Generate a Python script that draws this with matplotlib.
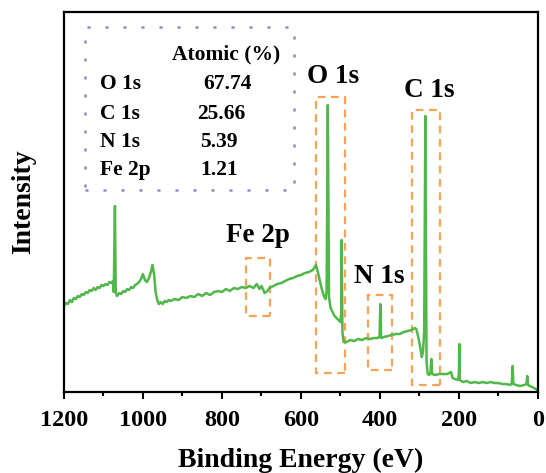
import matplotlib
matplotlib.use("Agg")
import matplotlib.pyplot as plt
from matplotlib.patches import Rectangle
from matplotlib.ticker import MultipleLocator

plt.rcParams['font.family'] = ['Liberation Serif', 'DejaVu Serif']
plt.rcParams['font.weight'] = 'bold'

# survey spectrum (binding energy in eV, intensity in a.u.)
energy = [1200, 1195, 1190, 1185, 1180, 1175, 1170, 1165, 1160, 1155, 1150, 1145,
          1140, 1135, 1130, 1125, 1120, 1115, 1110, 1105, 1100, 1095, 1090, 1085,
          1080, 1076, 1074, 1071, 1069, 1066, 1060, 1055, 1050, 1045, 1040, 1035,
          1030, 1025, 1020, 1015, 1010, 1005, 1000, 995, 990, 985, 980, 976, 972,
          968, 964, 960, 955, 950, 945, 940, 935, 930, 920, 910, 900, 890, 880, 870,
          860, 850, 840, 830, 820, 810, 800, 790, 780, 770, 760, 750, 740, 730, 720,
          712, 705, 700, 692, 685, 680, 670, 660, 650, 640, 630, 620, 610, 600, 590,
          580, 570, 562, 556, 548, 542, 538, 535, 532, 529, 525, 520, 515, 510, 505,
          500, 498, 497, 495, 492, 485, 475, 465, 455, 445, 435, 425, 415, 405, 401,
          399, 397, 390, 380, 370, 360, 350, 340, 330, 320, 312, 308, 303, 298, 294,
          291, 288, 285, 282, 279, 275, 272, 270, 268, 260, 250, 240, 230, 220, 216,
          210, 202, 200, 199, 198, 190, 180, 170, 160, 150, 140, 130, 120, 110, 100,
          90, 80, 70, 66, 64, 62, 55, 45, 35, 29, 27, 25, 20, 10, 5, 0]
intensity = [86, 89, 88, 92, 90, 94, 93, 96, 95, 98, 97, 100,
             99, 102, 101, 104, 102, 105, 104, 107, 106, 108, 107, 110,
             109, 111, 100, 186, 100, 96, 99, 98, 101, 100, 103, 102,
             105, 104, 107, 108, 110, 113, 118, 112, 110, 114, 120, 127, 118,
             100, 92, 88, 90, 88, 91, 90, 92, 91, 93, 92, 95, 94, 96, 95,
             98, 96, 99, 97, 100, 101, 100, 103, 101, 104, 103, 105, 104, 106, 104,
             108, 103, 106, 99, 101, 104, 106, 108, 109, 111, 113, 114, 116, 117, 119,
             120, 122, 127, 118, 104, 96, 93, 100, 287, 95, 84, 80, 76, 74, 72,
             70, 80, 152, 60, 50, 50, 52, 51, 53, 52, 54, 53, 54, 54, 56,
             88, 54, 55, 56, 57, 58, 58, 60, 61, 62, 64, 63, 55, 45, 35,
             40, 60, 276, 30, 18, 17, 20, 33, 18, 17, 18, 18, 18, 20, 14,
             13, 12, 20, 48, 12, 10, 11, 9, 10, 9, 10, 9, 10, 9, 9,
             8, 8, 7, 9, 26, 8, 7, 6, 7, 8, 16, 7, 6, 4, 3, 2]

# highlighted peak regions: label, energy span, intensity span, label position
peaks = ['Fe 2p', 'O 1s', 'N 1s', 'C 1s']
peak_e = [(739, 678), (561, 489), (429, 370), (319, 248)]
peak_i = [(76, 134), (19, 295), (22, 97), (7, 282)]
label_pos = [(709, 150), (518, 309), (402, 109), (276, 295)]

elements = ['O 1s', 'C 1s', 'N 1s', 'Fe 2p']
atomic = ['67.74', '25.66', '5.39', '1.21']

green = '#4fb848'
orange = '#f7a355'
purple = '#9584cc'

fig = plt.figure(figsize=(5.46, 4.73), dpi=100)
ax = fig.add_axes([0.1172, 0.1712, 0.868, 0.8034])

ax.plot(energy, intensity, color=green, lw=1.8)

for name, (e1, e2), (i1, i2), (tx, ty) in zip(peaks, peak_e, peak_i, label_pos):
    ax.add_patch(Rectangle((e2, i1), e1 - e2, i2 - i1, fill=False, ec=orange,
                           lw=1.6, ls=(0, (3.5, 2.5))))
    ax.text(tx, ty, name, fontsize=19.5, fontweight='bold', ha='center', va='baseline')

# atomic composition table
ax.add_patch(Rectangle((0.044, 0.532), 0.441, 0.429, transform=ax.transAxes,
                       fill=False, ec=purple, lw=1.8, ls=(0, (1.2, 6))))
ax.text(0.342, 0.874, 'Atomic (%)', transform=ax.transAxes, fontsize=15.5,
        ha='center', va='baseline')
row_y = [0.797, 0.718, 0.645, 0.571]
val_x = [0.344, 0.331, 0.327, 0.327]
for el, val, y, vx in zip(elements, atomic, row_y, val_x):
    ax.text(0.075, y, el, transform=ax.transAxes, fontsize=15.5, ha='left', va='baseline')
    ax.text(vx, y, val, transform=ax.transAxes, fontsize=15.5, ha='center', va='baseline')

ax.set_xlim(1200, 0)
ax.set_ylim(0, 380)
ax.xaxis.set_major_locator(MultipleLocator(200))
ax.xaxis.set_minor_locator(MultipleLocator(100))
ax.tick_params(axis='x', which='major', direction='out', length=5, width=1.5,
               labelsize=17.5, pad=8)
ax.tick_params(axis='x', which='minor', direction='out', length=3, width=1.5)
ax.set_yticks([])
for s in ax.spines.values():
    s.set_linewidth(1.6)

ax.set_xlabel('Binding Energy (eV)', fontsize=20, fontweight='bold', labelpad=12)
ax.set_ylabel('Intensity', fontsize=20, fontweight='bold')
ax.yaxis.set_label_coords(-0.059, 0.5)

fig.savefig('out.png', dpi=100)
